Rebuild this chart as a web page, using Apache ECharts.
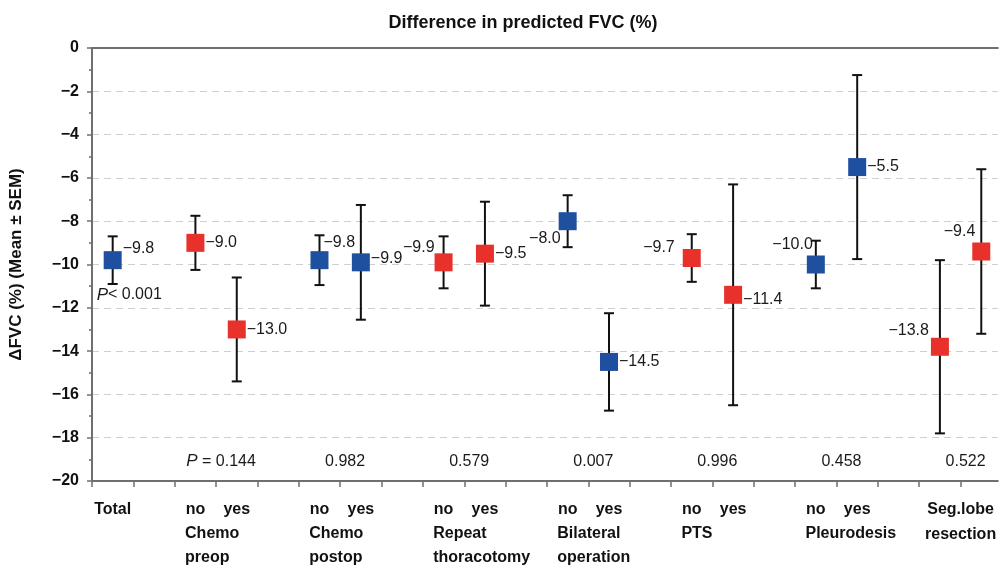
<!DOCTYPE html>
<html>
<head>
<meta charset="utf-8">
<script src="https://cdn.jsdelivr.net/npm/echarts@6/dist/echarts.min.js"></script>
<style>
  html, body { margin: 0; padding: 0; background: #fff; }
  #chart { width: 999px; height: 571px; }
</style>
</head>
<body>
<div id="chart"></div>
<script>
// data
const groupNames = ['Chemo\npreop', 'Chemo\npostop', 'Repeat\nthoracotomy', 'Bilateral\noperation', 'PTS', 'Pleurodesis', 'Seg.lobe\nresection']
const totalMean = -9.8
const totalSem = 1.1
const noMeans = [-9.0, -9.8, -9.9, -8.0, -9.7, -10.0, -13.8]
const noSem = [1.25, 1.15, 1.2, 1.2, 1.1, 1.1, 4.0]
const yesMeans = [-13.0, -9.9, -9.5, -14.5, -11.4, -5.5, -9.4]
const yesSem = [2.4, 2.65, 2.4, 2.25, 5.1, 4.25, 3.8]
const totalP = '< 0.001'
const pValues = ['0.144', '0.982', '0.579', '0.007', '0.996', '0.458', '0.522']

const FONT = '"Liberation Sans", Arial, Helvetica, sans-serif'
const BLUE = '#1f4f9f'
const RED = '#e8312b'
const AXIS = '#6f6f6f'
const groupColors = [RED, BLUE, RED, BLUE, RED, BLUE, RED]
// side / dx / dy of the value label, total first then no,yes per group
const labelPlace = [
  ['right', -1, -12],
  ['right', -1, 0], ['right', -1, 0],
  ['right', -7, -18], ['right', -1, -4],
  ['left', 2, -15], ['right', -1, 0],
  ['left', 4, 17], ['right', -1, 0],
  ['left', -6, -10], ['right', -1, 5],
  ['left', 8, -20], ['right', -1, 0],
  ['left', 0, -16], ['left', 5, -20]
]

// slot layout: Total at 0, each group takes "no" at 3g+2 and "yes" at 3g+3
const points = [{ x: 0, mean: totalMean, sem: totalSem, color: BLUE }]
groupNames.forEach((n, g) => {
  points.push({ x: 3 * g + 2, mean: noMeans[g], sem: noSem[g], color: groupColors[g] })
  points.push({ x: 3 * g + 3, mean: yesMeans[g], sem: yesSem[g], color: groupColors[g] })
})

const fmt = v => (v < 0 ? '\u2212' : '') + Math.abs(v).toFixed(1)

const tickValues = []
for (let k = -0.5; k <= 20.5; k += 1) tickValues.push(k)
const mainLabelValues = [0]
for (let g = 0; g < 6; g++) mainLabelValues.push(3 * g + 2, 3 * g + 3)
mainLabelValues.push(20.5)
const groupLabelValues = []
for (let g = 0; g < 6; g++) groupLabelValues.push(3 * g + 1.75)

const chart = echarts.init(document.getElementById('chart'))
const option = {
  animation: false,
  textStyle: { fontFamily: FONT },
  title: {
    text: 'Difference in predicted FVC (%)',
    left: 518,
    top: 9,
    textAlign: 'center',
    textStyle: { fontFamily: FONT, fontSize: 18, fontWeight: 'bold', color: '#111' }
  },
  grid: { left: 88, right: 0, top: 48, bottom: 90, containLabel: false },
  xAxis: [
    {
      type: 'value',
      min: -0.5,
      max: 21.4,
      position: 'bottom',
      splitLine: { show: false },
      axisLine: { onZero: false, lineStyle: { color: AXIS, width: 2 } },
      axisTick: { customValues: tickValues, length: 6, lineStyle: { color: AXIS, width: 1.5 } },
      axisLabel: {
        customValues: mainLabelValues,
        margin: 16,
        fontFamily: FONT,
        fontSize: 16,
        fontWeight: 'bold',
        color: '#111',
        lineHeight: 25,
        formatter: function(v) {
          if (v === 0) return 'Total'
          if (v === 20.5) return groupNames[6]
          return Math.round(v - 2) % 3 === 0 ? 'no' : 'yes'
        }
      }
    },
    {
      type: 'value',
      min: -0.5,
      max: 21.4,
      position: 'bottom',
      splitLine: { show: false },
      axisLine: { show: false, onZero: false },
      axisTick: { show: false },
      axisLabel: {
        customValues: groupLabelValues,
        margin: 41,
        align: 'left',
        fontFamily: FONT,
        fontSize: 16,
        fontWeight: 'bold',
        color: '#111',
        lineHeight: 24,
        formatter: function(v) {
          return groupNames[Math.round((v - 1.75) / 3)]
        }
      }
    },
    {
      type: 'value',
      min: -0.5,
      max: 21.4,
      position: 'top',
      splitLine: { show: false },
      axisLine: { onZero: false, lineStyle: { color: AXIS, width: 2 } },
      axisTick: { show: false },
      axisLabel: { show: false }
    }
  ],
  yAxis: {
    type: 'value',
    min: -20,
    max: 0,
    interval: 2,
    name: '\u0394FVC (%) (Mean \u00b1 SEM)',
    nameLocation: 'middle',
    nameRotate: 90,
    nameGap: 67,
    nameTextStyle: { fontFamily: FONT, fontSize: 17, fontWeight: 'bold', color: '#111' },
    axisLine: { onZero: false, lineStyle: { color: AXIS, width: 2 } },
    axisTick: { length: 5, lineStyle: { color: AXIS, width: 1.5 } },
    minorTick: { show: true, splitNumber: 2, length: 3, lineStyle: { color: AXIS, width: 1.5 } },
    axisLabel: {
      margin: 13,
      fontFamily: FONT,
      fontSize: 16,
      fontWeight: 'bold',
      color: '#111',
      formatter: v => (v < 0 ? '\u2212' : '') + Math.abs(v)
    },
    splitLine: {
      show: true,
      showMinLine: false,
      showMaxLine: false,
      lineStyle: { color: '#cfcfcf', type: [7, 5], width: 1 }
    }
  },
  series: [
    {
      // mean ± SEM bars
      type: 'custom',
      xAxisIndex: 0,
      z: 2,
      data: points.map(p => [p.x, p.mean - p.sem, p.mean + p.sem]),
      renderItem: function(params, api) {
        const lo = api.coord([api.value(0), api.value(1)])
        const hi = api.coord([api.value(0), api.value(2)])
        const half = 5
        const style = { stroke: '#111', lineWidth: 2 }
        return {
          type: 'group',
          children: [
            { type: 'line', shape: { x1: hi[0], y1: hi[1], x2: lo[0], y2: lo[1] }, style: style },
            { type: 'line', shape: { x1: hi[0] - half, y1: hi[1], x2: hi[0] + half, y2: hi[1] }, style: style },
            { type: 'line', shape: { x1: lo[0] - half, y1: lo[1], x2: lo[0] + half, y2: lo[1] }, style: style }
          ]
        }
      }
    },
    {
      type: 'scatter',
      xAxisIndex: 0,
      z: 3,
      symbol: 'rect',
      symbolSize: 18,
      itemStyle: { opacity: 1 },
      data: points.map((p, i) => ({
        value: [p.x, p.mean],
        itemStyle: { color: p.color, opacity: 1 },
        label: {
          show: true,
          position: labelPlace[i][0],
          distance: 2,
          offset: [labelPlace[i][1], labelPlace[i][2]],
          formatter: () => fmt(p.mean)
        }
      })),
      label: { fontFamily: FONT, fontSize: 16, color: '#1a1a1a' }
    },
    {
      // p-values
      type: 'scatter',
      xAxisIndex: 0,
      z: 3,
      symbolSize: 0,
      silent: true,
      itemStyle: { opacity: 1 },
      data: [{ value: [0.4, -11.4], name: totalP, pre: 'P' }].concat(
        pValues.map((p, g) => ({ value: [3 * g + 2.62, -19.1], name: p, pre: g === 0 ? 'P' : '' }))
      ).map(d => ({
        value: d.value,
        label: {
          show: true,
          position: 'inside',
          formatter: (d.pre ? '{i|' + d.pre + '}' + (d.name[0] === '<' ? '' : ' = ') : '') + d.name
        }
      })),
      label: {
        fontFamily: FONT,
        fontSize: 16,
        color: '#1a1a1a',
        rich: { i: { fontFamily: FONT, fontSize: 17, fontStyle: 'italic', color: '#1a1a1a' } }
      }
    }
  ]
}
chart.setOption(option)
</script>
</body>
</html>
